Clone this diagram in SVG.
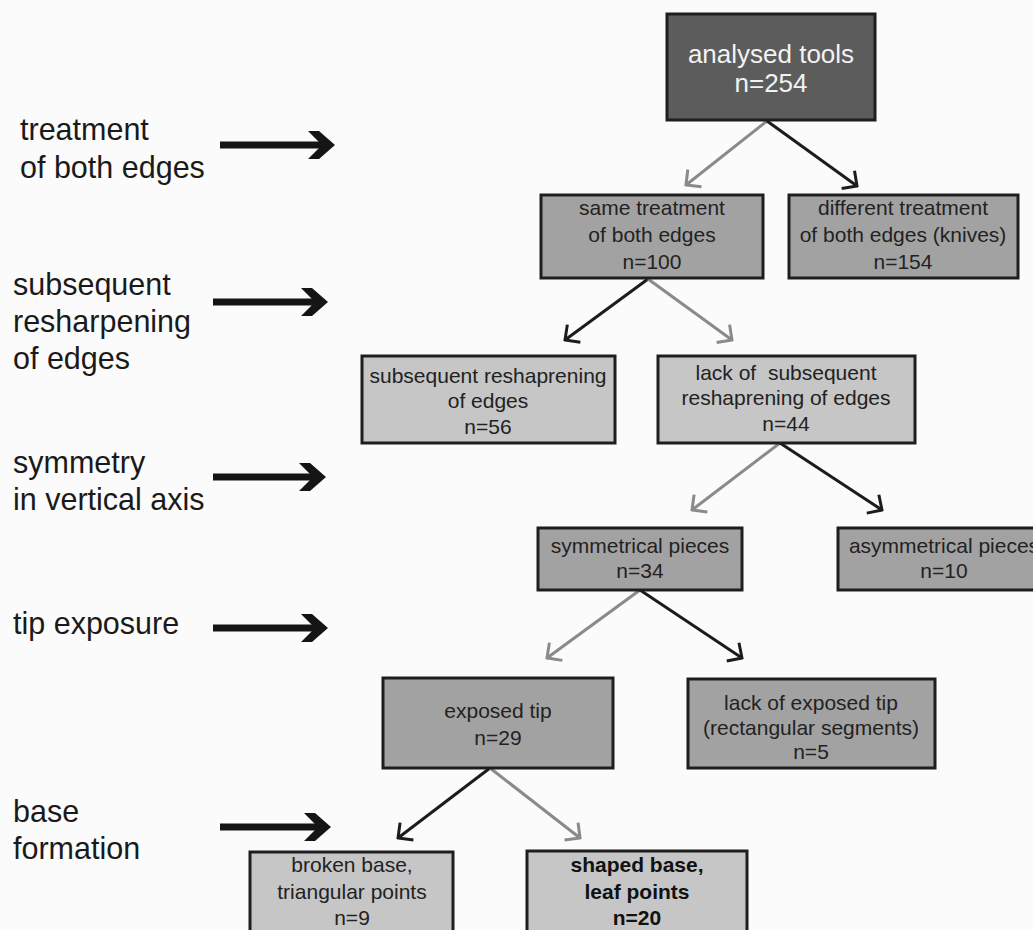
<svg xmlns="http://www.w3.org/2000/svg" width="1033" height="930" viewBox="0 0 1033 930">
  <style>
    text { font-family: "Liberation Sans", Arial, Helvetica, sans-serif; }
    .box { stroke: #1e1e1e; stroke-width: 3; }
    .dark { fill: #5c5c5c; }
    .mid { fill: #a2a2a2; }
    .light { fill: #c6c6c6; }
    .t { font-size: 21px; fill: #222; text-anchor: middle; }
    .tw { font-size: 26px; fill: #f2f2f2; text-anchor: middle; }
    .b { font-weight: bold; fill: #111; }
    .lbl { font-size: 30.5px; fill: #1a1a1a; }
    .cb { stroke: #1c1c1c; stroke-width: 3; fill: none; marker-end: url(#hb); }
    .cg { stroke: #8a8a8a; stroke-width: 3; fill: none; marker-end: url(#hg); }
    .shaft { stroke: #151515; stroke-width: 7; }
  </style>
  <defs>
    <marker id="hb" viewBox="-14 -13 16 26" refX="0" refY="0" markerWidth="16" markerHeight="26" markerUnits="userSpaceOnUse" orient="auto">
      <path d="M-11,-11 L0,0 L-11,11" fill="none" stroke="#1c1c1c" stroke-width="3"/>
    </marker>
    <marker id="hg" viewBox="-14 -13 16 26" refX="0" refY="0" markerWidth="16" markerHeight="26" markerUnits="userSpaceOnUse" orient="auto">
      <path d="M-11,-11 L0,0 L-11,11" fill="none" stroke="#8a8a8a" stroke-width="3"/>
    </marker>
    <path id="bighead" d="M-26,-14 L-15,-14 L1,0 L-15,14 L-26,14 L-12,0 Z" fill="#151515"/>
  </defs>

  <rect x="0" y="0" width="1033" height="930" fill="#fbfbfb"/>

  <!-- left labels -->
  <g id="label-treatment">
    <text class="lbl" x="20" y="140">treatment</text>
    <text class="lbl" x="20" y="178">of both edges</text>
    <line class="shaft" x1="220" y1="145" x2="324" y2="145"/>
    <use href="#bighead" transform="translate(334,145)"/>
  </g>
  <g id="label-resharpening">
    <text class="lbl" x="13" y="295">subsequent</text>
    <text class="lbl" x="13" y="332">resharpening</text>
    <text class="lbl" x="13" y="369">of edges</text>
    <line class="shaft" x1="213" y1="302" x2="317" y2="302"/>
    <use href="#bighead" transform="translate(327,302)"/>
  </g>
  <g id="label-symmetry">
    <text class="lbl" x="13" y="473">symmetry</text>
    <text class="lbl" x="13" y="510">in vertical axis</text>
    <line class="shaft" x1="213" y1="477" x2="315" y2="477"/>
    <use href="#bighead" transform="translate(325,477)"/>
  </g>
  <g id="label-tip">
    <text class="lbl" x="13" y="634">tip exposure</text>
    <line class="shaft" x1="213" y1="628" x2="317" y2="628"/>
    <use href="#bighead" transform="translate(327,628)"/>
  </g>
  <g id="label-base">
    <text class="lbl" x="13" y="822">base</text>
    <text class="lbl" x="13" y="859">formation</text>
    <line class="shaft" x1="220" y1="827" x2="320" y2="827"/>
    <use href="#bighead" transform="translate(330,827)"/>
  </g>

  <!-- connectors -->
  <g id="connectors">
    <line class="cg" x1="767" y1="121" x2="686" y2="185"/>
    <line class="cb" x1="767" y1="121" x2="857" y2="186"/>
    <line class="cb" x1="648" y1="279" x2="565" y2="340"/>
    <line class="cg" x1="648" y1="279" x2="732" y2="340"/>
    <line class="cg" x1="780" y1="443" x2="692" y2="510"/>
    <line class="cb" x1="780" y1="443" x2="882" y2="510"/>
    <line class="cg" x1="640" y1="590" x2="547" y2="658"/>
    <line class="cb" x1="640" y1="590" x2="742" y2="658"/>
    <line class="cb" x1="490" y1="768" x2="398" y2="838"/>
    <line class="cg" x1="490" y1="768" x2="580" y2="838"/>
  </g>

  <!-- nodes -->
  <g id="node-analysed">
    <rect class="box dark" x="667" y="14" width="208" height="106"/>
    <text class="tw" x="771" y="63">analysed tools</text>
    <text class="tw" x="771" y="92">n=254</text>
  </g>
  <g id="node-same">
    <rect class="box mid" x="541" y="195" width="222" height="83"/>
    <text class="t" x="652" y="215">same treatment</text>
    <text class="t" x="652" y="242">of both edges</text>
    <text class="t" x="652" y="269">n=100</text>
  </g>
  <g id="node-different">
    <rect class="box mid" x="789" y="195" width="229" height="83"/>
    <text class="t" x="903" y="215">different treatment</text>
    <text class="t" x="903" y="242">of both edges (knives)</text>
    <text class="t" x="903" y="269">n=154</text>
  </g>
  <g id="node-subsequent">
    <rect class="box light" x="362" y="356" width="253" height="87"/>
    <text class="t" x="488" y="383">subsequent reshaprening</text>
    <text class="t" x="488" y="408">of edges</text>
    <text class="t" x="488" y="434">n=56</text>
  </g>
  <g id="node-lack-subsequent">
    <rect class="box light" x="658" y="356" width="257" height="87"/>
    <text class="t" x="786" y="380" style="white-space:pre">lack of  subsequent</text>
    <text class="t" x="786" y="405">reshaprening of edges</text>
    <text class="t" x="786" y="431">n=44</text>
  </g>
  <g id="node-symmetrical">
    <rect class="box mid" x="538" y="528" width="204" height="62"/>
    <text class="t" x="640" y="553">symmetrical pieces</text>
    <text class="t" x="640" y="578">n=34</text>
  </g>
  <g id="node-asymmetrical">
    <rect class="box mid" x="838" y="528" width="210" height="62"/>
    <text class="t" x="944" y="553">asymmetrical pieces</text>
    <text class="t" x="944" y="578">n=10</text>
  </g>
  <g id="node-exposed">
    <rect class="box mid" x="383" y="678" width="230" height="90"/>
    <text class="t" x="498" y="718">exposed tip</text>
    <text class="t" x="498" y="745">n=29</text>
  </g>
  <g id="node-lack-exposed">
    <rect class="box mid" x="688" y="679" width="247" height="89"/>
    <text class="t" x="811" y="710">lack of exposed tip</text>
    <text class="t" x="811" y="735">(rectangular segments)</text>
    <text class="t" x="811" y="759">n=5</text>
  </g>
  <g id="node-broken">
    <rect class="box light" x="250" y="852" width="203" height="80"/>
    <text class="t" x="352" y="872">broken base,</text>
    <text class="t" x="352" y="899">triangular points</text>
    <text class="t" x="352" y="925">n=9</text>
  </g>
  <g id="node-shaped">
    <rect class="box light" x="527" y="851" width="220" height="81"/>
    <text class="t b" x="637" y="872">shaped base,</text>
    <text class="t b" x="637" y="899">leaf points</text>
    <text class="t b" x="637" y="925">n=20</text>
  </g>
</svg>
